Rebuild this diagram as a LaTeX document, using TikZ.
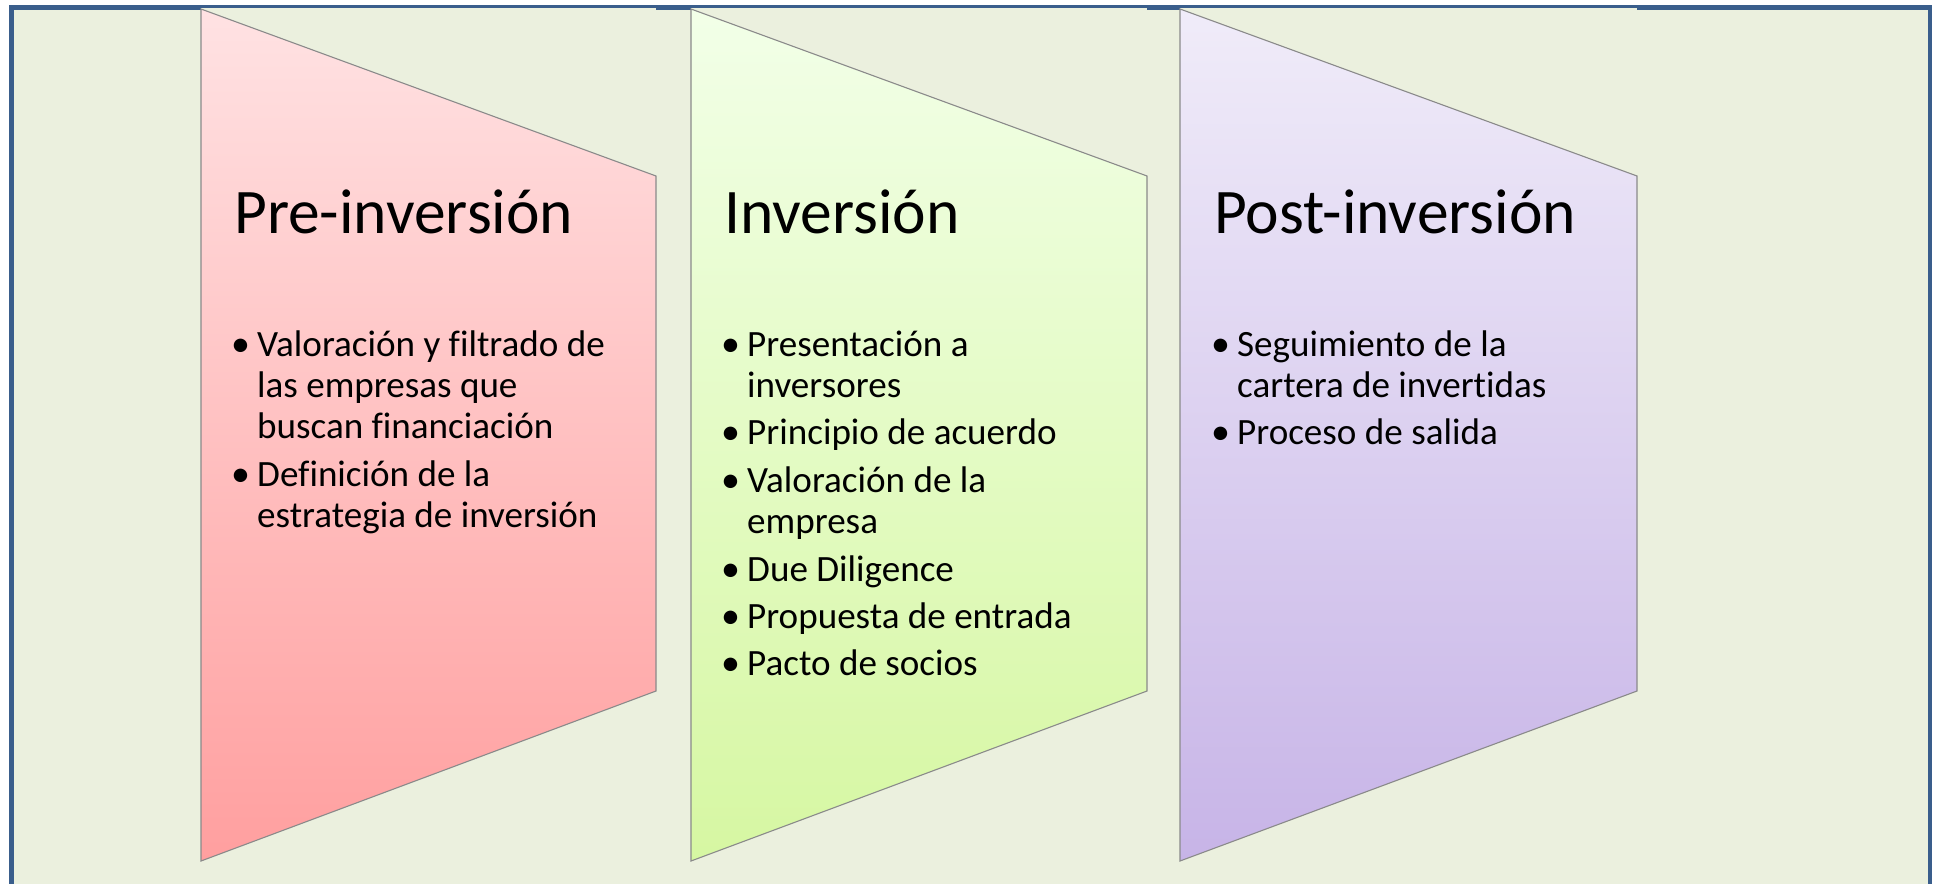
\documentclass[tikz,border=0pt]{standalone}
\usepackage{fontspec}
\setmainfont[Ligatures=NoCommon]{Carlito}
\definecolor{bgcol}{HTML}{EBF0DE}
\definecolor{framecol}{HTML}{3A5E8C}
\definecolor{pinkT}{HTML}{FFE2E3}
\definecolor{pinkB}{HTML}{FF9F9F}
\definecolor{greenT}{HTML}{F2FFE8}
\definecolor{greenB}{HTML}{D6F7A2}
\definecolor{lilacT}{HTML}{F0ECF9}
\definecolor{lilacB}{HTML}{C7B4E7}
\definecolor{edgecol}{HTML}{8A8A8A}
\begin{document}
\begin{tikzpicture}[x=1pt,y=-1pt,
  ttl/.style={font=\fontsize{63.5}{70}\selectfont, anchor=base west, inner sep=0pt},
  txt/.style={font=\fontsize{37.1}{41}\selectfont, anchor=base west, inner sep=0pt},
  bul/.style={font=\fontsize{38}{41}\selectfont, anchor=base west, inner sep=0pt},
  stage/.style={draw=edgecol, line width=1.1pt, line join=miter},
  frame/.style={draw=framecol, line width=4.5pt}]
\useasboundingbox (0,0) rectangle (1934,883);
\fill[white] (0,0) rectangle (1934,883);
\fill[bgcol] (11.5,7.5) rectangle (1930,900);
\draw[frame] (11.5,900) -- (11.5,7.5) -- (1930,7.5) -- (1930,900);
% lighter top border segments above the stages
\foreach \l/\r in {201/656,691/1147,1180/1637}{
  \fill[bgcol] (\l,8.2) rectangle (\r,12);
}
% stages
\shade[stage, top color=pinkT, bottom color=pinkB]
  (201,9) -- (656,176) -- (656,691) -- (201,861) -- cycle;
\shade[stage, top color=greenT, bottom color=greenB]
  (691,9) -- (1147,176) -- (1147,691) -- (691,861) -- cycle;
\shade[stage, top color=lilacT, bottom color=lilacB]
  (1180,9) -- (1637,176) -- (1637,691) -- (1180,861) -- cycle;
% titles
\node[ttl] (t1) at (234,233) {Pre-inversión};
\node[ttl] (t2) at (724,233) {Inversión};
\node[ttl] (t3) at (1214,233) {Post-inversión};
% column 1
\node[bul] (b11) at (231,356) {•};
\node[txt] (a11) at (257,356) {Valoración y filtrado de};
\node[txt] (a12) at (257,397) {las empresas que};
\node[txt] (a13) at (257,438) {buscan financiación};
\node[bul] (b12) at (231,486) {•};
\node[txt] (a14) at (257,486) {Definición de la};
\node[txt] (a15) at (257,527) {estrategia de inversión};
% column 2
\node[bul] (b21) at (721,356) {•};
\node[txt] (a21) at (747,356) {Presentación a};
\node[txt] (a22) at (747,397) {inversores};
\node[bul] (b22) at (721,444) {•};
\node[txt] (a23) at (747,444) {Principio de acuerdo};
\node[bul] (b23) at (721,492) {•};
\node[txt] (a24) at (747,492) {Valoración de la};
\node[txt] (a25) at (747,533) {empresa};
\node[bul] (b24) at (721,581) {•};
\node[txt] (a26) at (747,581) {Due Diligence};
\node[bul] (b25) at (721,628) {•};
\node[txt] (a27) at (747,628) {Propuesta de entrada};
\node[bul] (b26) at (721,675) {•};
\node[txt] (a28) at (747,675) {Pacto de socios};
% column 3
\node[bul] (b31) at (1211,356) {•};
\node[txt] (a31) at (1237,356) {Seguimiento de la};
\node[txt] (a32) at (1237,397) {cartera de invertidas};
\node[bul] (b32) at (1211,444) {•};
\node[txt] (a33) at (1237,444) {Proceso de salida};
\end{tikzpicture}
\end{document}
